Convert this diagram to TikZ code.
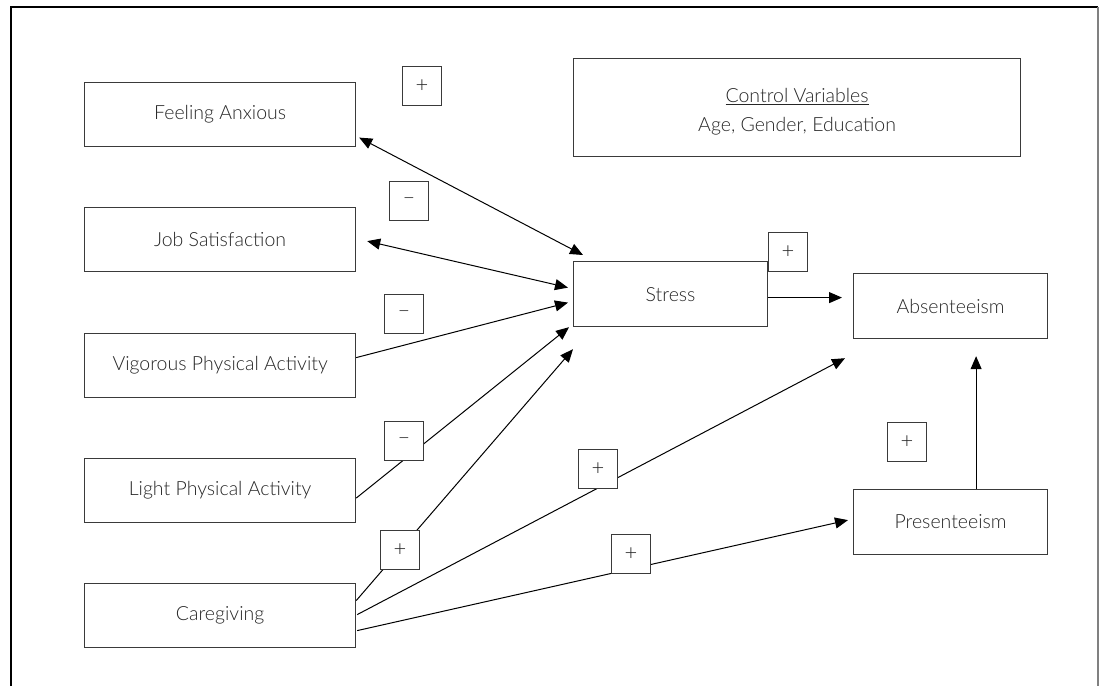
\documentclass[tikz,border=0pt]{standalone}
\usepackage{fontspec}
\setmainfont{Lato}[UprightFont={* Light}]
\usetikzlibrary{arrows.meta,calc}
\definecolor{boxline}{HTML}{3A3A3A}
\definecolor{txt}{HTML}{262626}
\tikzset{
  var/.style={draw=boxline, line width=1.2pt, fill=white, anchor=north west, inner sep=0pt,
    minimum width=271pt, minimum height=64pt, font=\fontsize{19.5}{23}\selectfont, text=txt},
  sign/.style={draw=boxline, line width=1.2pt, fill=white, anchor=north west, inner sep=0pt,
    minimum width=39pt, minimum height=39pt, font=\fontsize{22}{24}\selectfont, text=txt},
  arr/.style={line width=1pt, -{Triangle[length=13pt,width=11pt]}},
  darr/.style={line width=1pt, {Triangle[length=13pt,width=11pt]}-{Triangle[length=13pt,width=11pt]}},
  ln/.style={line width=1pt}
}
\begin{document}
\begin{tikzpicture}[x=1pt,y=-1pt]
\useasboundingbox (0,0) rectangle (1101,686);
% frame
\draw[line width=1.3pt] (11,686) -- (11,7) -- (1098,7);
\draw[line width=2.2pt, gray] (1098,7) -- (1098,686);

% variable boxes
\node[var] (fa) at (84,82) {Feeling Anxious};
\node[var] (js) at (84,207) {Job Satisfaction};
\node[var] (vig) at (84,333) {Vigorous Physical Activity};
\node[var] (lpa) at (84,458) {Light Physical Activity};
\node[var] (care) at (84,583) {Caregiving};
\node[var, minimum width=194pt, minimum height=65pt] (stress) at (573,261) {Stress};
\node[var, minimum width=194pt, minimum height=65pt] (abs) at (853,273) {Absenteeism};
\node[var, minimum width=194pt, minimum height=65pt] (pres) at (853,489) {Presenteeism};
\node[var, minimum width=447pt, minimum height=98pt] (ctrl) at (573,58) {};
\node[align=center, inner sep=0pt, text=txt, font=\fontsize{19.5}{29}\selectfont]
  (ctrltext) at ([yshift=-4pt]ctrl.center) {\underline{Control Variables}\\Age, Gender, Education};

% connectors
\draw[darr] ([shift={(3,23)}]fa.east) -- ([shift={(10,-6)}]stress.north west);
\draw[darr] ([shift={(11,1.5)}]js.east) -- ([shift={(-5,-6.5)}]stress.west);
\draw[arr] ([shift={(0,-8)}]vig.east) -- ([shift={(-5,8.5)}]stress.west);
\draw[arr] ([shift={(0,7.5)}]lpa.east) -- ([shift={(-4,0)}]stress.south west);
\draw[arr] ([shift={(0,-15)}]care.east) -- ([shift={(0,22)}]stress.south west);
\draw[arr] ([shift={(1,-1)}]care.east) -- ([shift={(-8,19)}]abs.south west);
\draw[arr] ([shift={(1,15)}]care.east) -- ([shift={(-5,-2)}]pres.west);
\draw[arr] ([shift={(0,3.5)}]stress.east) -- ([shift={(-11,-8.5)}]abs.west);
\draw[arr] ([shift={(25.5,0)}]pres.north) -- ([shift={(25.5,17)}]abs.south);

% sign boxes
\node[sign] (s1) at (402,66) {+};
\node[sign] (s2) at (389,181) {--};
\node[sign] (s3) at (384,294) {--};
\node[sign] (s4) at (384,421) {--};
\node[sign] (s5) at (380,530) {+};
\node[sign] (s6) at (578,449) {+};
\node[sign] (s7) at (611,534) {+};
\node[sign] (s8) at (768,232) {+};
\node[sign] (s9) at (887,422) {+};
\end{tikzpicture}
\end{document}
